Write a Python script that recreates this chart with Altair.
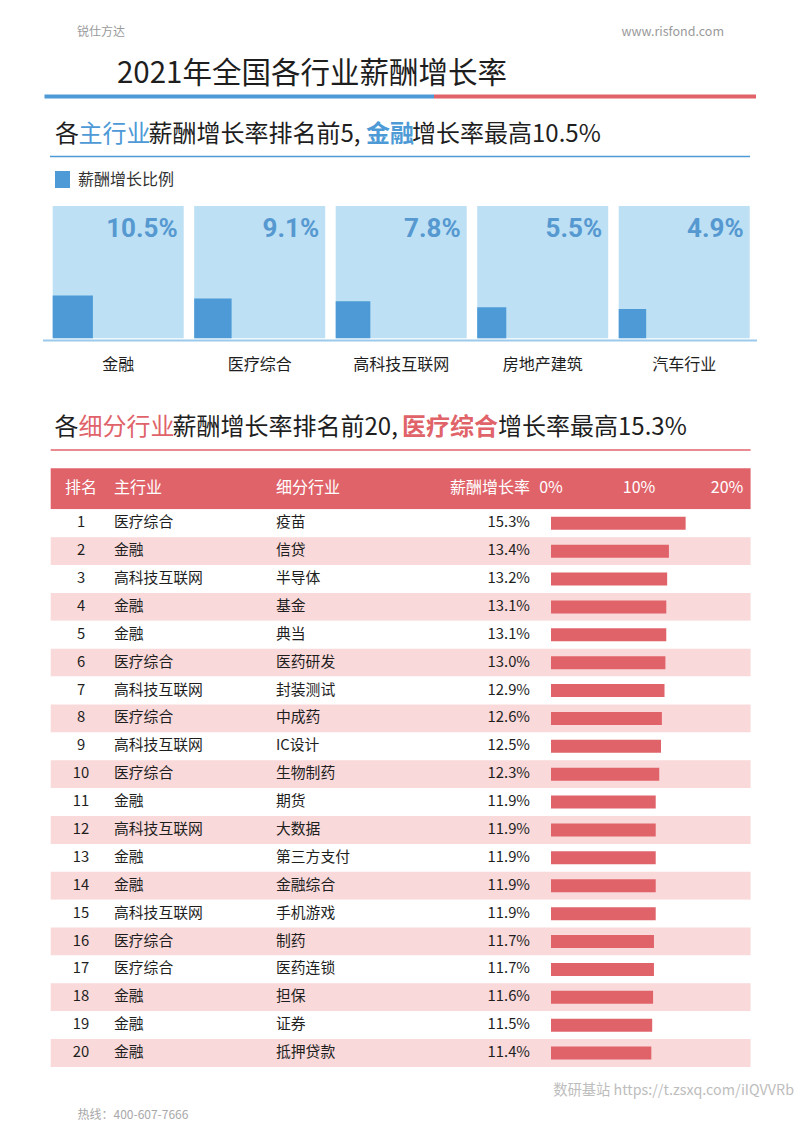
import altair as alt
import pandas as pd

# ---------------- data ----------------
main_cats = ["金融", "医疗综合", "高科技互联网", "房地产建筑", "汽车行业"]
main_vals = [10.5, 9.1, 7.8, 5.5, 4.9]

ranks = list(range(1, 21))
row_main = ["医疗综合", "金融", "高科技互联网", "金融", "金融", "医疗综合", "高科技互联网",
            "医疗综合", "高科技互联网", "医疗综合", "金融", "高科技互联网", "金融", "金融",
            "高科技互联网", "医疗综合", "医疗综合", "金融", "金融", "金融"]
row_sub = ["疫苗", "信贷", "半导体", "基金", "典当", "医药研发", "封装测试", "中成药", "IC设计",
           "生物制药", "期货", "大数据", "第三方支付", "金融综合", "手机游戏", "制药", "医药连锁",
           "担保", "证券", "抵押贷款"]
row_vals = [15.3, 13.4, 13.2, 13.1, 13.1, 13.0, 12.9, 12.6, 12.5, 12.3, 11.9, 11.9, 11.9,
            11.9, 11.9, 11.7, 11.7, 11.6, 11.5, 11.4]
tick_vals = [0, 10, 20]
tick_labels = ["0%", "10%", "20%"]

df_main = pd.DataFrame({"cat": main_cats, "val": main_vals,
                        "label": [f"{v:.1f}%" for v in main_vals],
                        "idx": list(range(len(main_cats)))})
df_rows = pd.DataFrame({"rank": ranks, "main": row_main, "sub": row_sub, "val": row_vals,
                        "vlabel": [f"{v:.1f}%" for v in row_vals]})
df_ticks = pd.DataFrame({"t": tick_vals, "label": tick_labels})

# ---------------- style ----------------
FONT = "Noto Sans CJK SC"
NUMFONT = "Roboto"
DARK = "#1e1e1e"
GRAY = "#9a9a9a"
BLUE = "#4d9ad6"
BLUE_BG = "#bde0f4"
BLUE_TXT = "#5698d0"
BLUE_AXIS = "#9ccaec"
RED = "#e0636a"
PINK = "#f9d9da"

W, H = 786, 1116


def P(v):
    return v - 8


dummy = pd.DataFrame({"d": [0]})


def txt(s, x, y, size, color, align="left", weight="normal", font=FONT):
    return alt.Chart(pd.DataFrame({"t": [s]})).mark_text(
        align=align, baseline="middle", fontSize=size, color=color,
        fontWeight=weight, font=font
    ).encode(x=alt.value(P(x)), y=alt.value(P(y)), text="t:N")


def rule(x1, x2, y, color, w):
    return alt.Chart(dummy).mark_rule(color=color, strokeWidth=w, strokeCap="butt").encode(
        x=alt.value(P(x1)), x2=alt.value(P(x2)), y=alt.value(P(y)))


def rect(x1, x2, y1, y2, color):
    return alt.Chart(dummy).mark_rect(color=color).encode(
        x=alt.value(P(x1)), x2=alt.value(P(x2)), y=alt.value(P(y1)), y2=alt.value(P(y2)))


layers = []

# header
layers.append(txt("锐仕方达", 77, 32, 12, GRAY))
layers.append(txt("www.risfond.com", 724, 32, 12.5, GRAY, align="right"))
layers.append(txt("2021年全国各行业薪酬增长率", 117, 74, 29.5, DARK))
layers.append(rule(44.5, 434, 96.5, BLUE, 4))
layers.append(rule(434, 756, 96.5, RED, 4))

# subtitle 1
SUB = 24
for s, x, c, w in [("各", 55, DARK, "normal"), ("主行业", 78.5, BLUE, "normal"),
                   ("薪酬增长率排名前5,", 148.5, DARK, "normal"), ("金融", 366, BLUE, "bold"),
                   ("增长率最高10.5%", 412, DARK, "normal")]:
    layers.append(txt(s, x, 135, SUB, c, weight=w))
layers.append(rule(50, 750, 156.5, BLUE, 1.5))

# legend
layers.append(rect(55, 70, 171, 188, BLUE))
layers.append(txt("薪酬增长比例", 78, 180, 16, "#333333"))

# panels
PX0, PSTEP, PW = 52.7, 141.5, 131
PTOP, PBOT = 206, 338.3
for k, cat in enumerate(main_cats):
    xk = PX0 + k * PSTEP
    layers.append(rect(xk, xk + PW, PTOP, PBOT, BLUE_BG))
    base = alt.Chart(df_main).transform_filter(f"datum.idx == {k}")
    layers.append(base.mark_rect(color=BLUE).encode(
        x=alt.X("val:Q", scale=alt.Scale(type="sqrt", domain=[0, 111.6],
                                         range=[P(xk), P(xk + PW)], nice=False), axis=None),
        x2=alt.value(P(xk)),
        y=alt.Y("val:Q", scale=alt.Scale(type="sqrt", domain=[0, 100],
                                         range=[P(PBOT), P(PTOP)], nice=False), axis=None),
        y2=alt.value(P(PBOT)),
    ))
    layers.append(base.mark_text(align="right", baseline="middle", fontSize=26,
                                 fontWeight="bold", font=NUMFONT, color=BLUE_TXT).encode(
        x=alt.value(P(xk + PW - 6)), y=alt.value(P(228.5)), text="label:N"))
    layers.append(base.mark_text(align="center", baseline="middle", fontSize=16,
                                 font=FONT, color=DARK).encode(
        x=alt.value(P(xk + PW / 2)), y=alt.value(P(365)), text="cat:N"))
layers.append(rule(43, 757, 340.5, BLUE_AXIS, 2))

# subtitle 2
for s, x, c, w in [("各", 54.5, DARK, "normal"), ("细分行业", 78.5, RED, "normal"),
                   ("薪酬增长率排名前20,", 172.5, DARK, "normal"), ("医疗综合", 402, RED, "bold"),
                   ("增长率最高15.3%", 498, DARK, "normal")]:
    layers.append(txt(s, x, 428, SUB, c, weight=w))
layers.append(rule(50.7, 750.6, 450, RED, 1.5))

# table header
TL, TR = 50.7, 750.6
layers.append(rect(TL, TR, 468.3, 509.3, RED))
HY = 487.5
HF = 16
layers.append(txt("排名", 65, HY, HF, "white"))
layers.append(txt("主行业", 114, HY, HF, "white"))
layers.append(txt("细分行业", 276, HY, HF, "white"))
layers.append(txt("薪酬增长率", 530, HY, HF, "white", align="right"))

xs = alt.Scale(domain=[0, 20], range=[P(551), P(727)], nice=False)
ys = alt.Scale(domain=ranks, range=[P(509.3), P(1067)], paddingInner=0, paddingOuter=0)

layers.append(alt.Chart(df_ticks).mark_text(align="center", baseline="middle", fontSize=HF,
                                            font=FONT, color="white").encode(
    x=alt.X("t:Q", scale=xs, axis=None), y=alt.value(P(HY)), text="label:N"))

# rows
rows = alt.Chart(df_rows)
layers.append(rows.mark_rect().encode(
    y=alt.Y("rank:O", scale=ys, axis=None),
    x=alt.value(P(TL)), x2=alt.value(P(TR)),
    color=alt.condition("datum.rank % 2 == 0", alt.value(PINK), alt.value("white")),
))
layers.append(rows.mark_bar(size=13, color=RED).encode(
    x=alt.X("val:Q", scale=xs, axis=None),
    y=alt.Y("rank:O", scale=ys, axis=None),
))
for field, x, al in [("rank", 81, "center"), ("main", 114, "left"), ("sub", 276, "left"),
                     ("vlabel", 530, "right")]:
    layers.append(rows.mark_text(align=al, baseline="middle", fontSize=14.8, font=FONT,
                                 color=DARK).encode(
        x=alt.value(P(x)), y=alt.Y("rank:O", scale=ys, axis=None), text=f"{field}:N"))

# footer
layers.append(txt("数研基站 https://t.zsxq.com/iIQVVRb", 794, 1090.5, 14.3, "#bdbdbd", align="right"))
layers.append(txt("热线：400-607-7666", 77.5, 1114.5, 12, "#a8a8a8"))

chart = alt.layer(*layers).resolve_scale(
    x="independent", y="independent", color="independent"
).properties(
    width=W, height=H, autosize=alt.AutoSizeParams(type="none"), padding=0,
    background="white"
).configure_view(stroke=None)

chart.save("out.html", embed_options={"renderer": "svg", "actions": False})
